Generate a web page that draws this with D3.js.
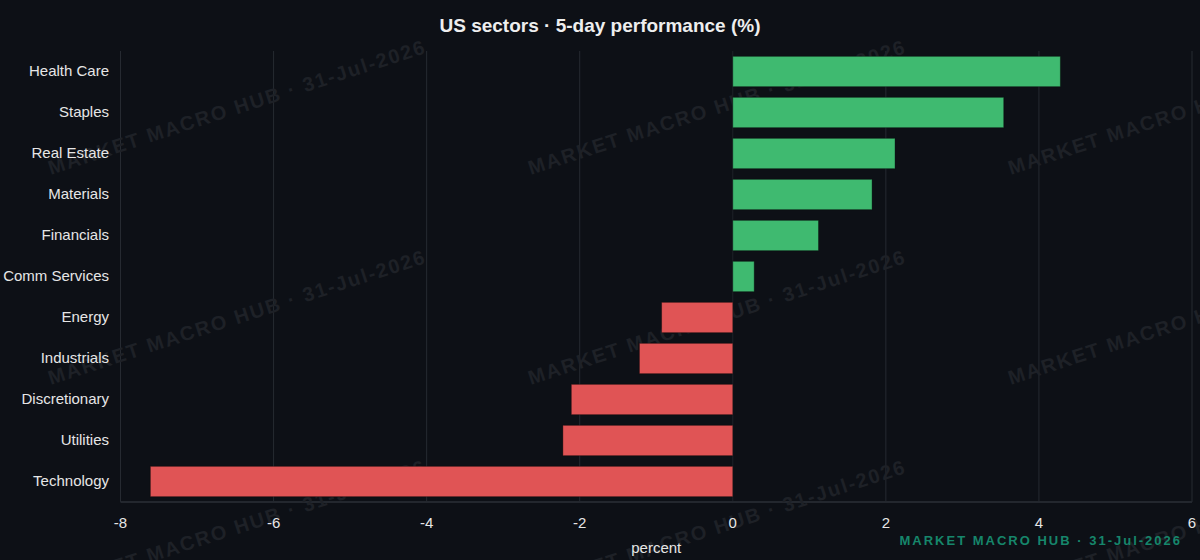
<!DOCTYPE html>
<html>
<head>
<meta charset="utf-8">
<script src="https://cdn.jsdelivr.net/npm/d3@7/dist/d3.min.js"></script>
<style>
  html, body { margin: 0; padding: 0; background: #0d1016; }
  #chart { width: 1200px; height: 560px; }
  text { font-family: "Liberation Sans", Arial, Helvetica, sans-serif; }
</style>
</head>
<body>
<div id="chart"></div>
<script>
// sectors, top to bottom
const sectors = [
  "Health Care", "Staples", "Real Estate", "Materials", "Financials",
  "Comm Services", "Energy", "Industrials", "Discretionary", "Utilities", "Technology"
];
const perf5d = [4.28, 3.54, 2.12, 1.82, 1.12, 0.28, -0.93, -1.22, -2.11, -2.22, -7.61];
const xTicks = [-8, -6, -4, -2, 0, 2, 4, 6];
const titleText = "US sectors · 5-day performance (%)";
const stampText = "MARKET MACRO HUB · 31-Jul-2026";

const width = 1200;
const height = 560;
const margin = { top: 51, right: 8, bottom: 58, left: 120.5 };

const svg = d3
  .select("#chart")
  .append("svg")
  .attr("width", width)
  .attr("height", height);

svg.append("rect").attr("width", width).attr("height", height).attr("fill", "#0d1016");

const x = d3.scaleLinear().domain([-8, 6]).range([margin.left, width - margin.right]);
const y = d3
  .scaleBand()
  .domain(sectors)
  .range([margin.top, height - margin.bottom])
  .paddingInner(0.26)
  .paddingOuter(0.13);

// grid
svg
  .append("g")
  .selectAll("line")
  .data(xTicks)
  .enter()
  .append("line")
  .attr("x1", (d) => x(d))
  .attr("x2", (d) => x(d))
  .attr("y1", margin.top)
  .attr("y2", height - margin.bottom)
  .attr("stroke", (d) => (d === 0 ? "#1e2228" : "#262a31"))
  .attr("stroke-width", 1);

// bottom axis line
svg
  .append("line")
  .attr("x1", margin.left)
  .attr("x2", width - margin.right)
  .attr("y1", height - margin.bottom)
  .attr("y2", height - margin.bottom)
  .attr("stroke", "#23272e")
  .attr("stroke-width", 2);

// watermark stamps, behind the bars
const stamps = svg.append("g").attr("class", "stamps");
[237, 717, 1197].forEach((cx) => {
  [107, 317, 527].forEach((cy) => {
    stamps
      .append("text")
      .attr("transform", `translate(${cx},${cy}) rotate(-18)`)
      .attr("text-anchor", "middle")
      .attr("dominant-baseline", "central")
      .style("font-size", "20px")
      .style("font-weight", "bold")
      .style("letter-spacing", "1.8px")
      .attr("fill", "#1e2127")
      .text(stampText);
  });
});

// bars
svg
  .append("g")
  .selectAll("rect")
  .data(perf5d)
  .enter()
  .append("rect")
  .attr("x", (d) => x(Math.min(0, d)))
  .attr("width", (d) => Math.abs(x(d) - x(0)))
  .attr("y", (_, i) => y(sectors[i]))
  .attr("height", y.bandwidth())
  .attr("fill", (d) => (d >= 0 ? "#3fba70" : "#e05455"))
  .attr("stroke", "rgba(0,0,0,0.35)")
  .attr("stroke-width", 1);

// y labels
svg
  .append("g")
  .selectAll("text")
  .data(sectors)
  .enter()
  .append("text")
  .attr("x", 109)
  .attr("y", (d) => y(d) + y.bandwidth() / 2 - 1)
  .attr("text-anchor", "end")
  .attr("dominant-baseline", "central")
  .style("font-size", "15px")
  .attr("fill", "#e6e6e6")
  .text((d) => d);

// x tick labels
svg
  .append("g")
  .selectAll("text")
  .data(xTicks)
  .enter()
  .append("text")
  .attr("x", (d) => x(d))
  .attr("y", 522)
  .attr("text-anchor", "middle")
  .attr("dominant-baseline", "central")
  .style("font-size", "15px")
  .attr("fill", "#e6e6e6")
  .text((d) => d);

// axis title
svg
  .append("text")
  .attr("x", (x.range()[0] + x.range()[1]) / 2)
  .attr("y", 547)
  .attr("text-anchor", "middle")
  .attr("dominant-baseline", "central")
  .style("font-size", "15px")
  .attr("fill", "#e6e6e6")
  .text("percent");

// title
svg
  .append("text")
  .attr("x", 600)
  .attr("y", 25)
  .attr("text-anchor", "middle")
  .attr("dominant-baseline", "central")
  .style("font-size", "19px")
  .style("font-weight", "bold")
  .attr("fill", "#eeeeee")
  .text(titleText);

// footer stamp
svg
  .append("text")
  .attr("x", 1182)
  .attr("y", 540)
  .attr("text-anchor", "end")
  .attr("dominant-baseline", "central")
  .style("font-size", "13px")
  .style("font-weight", "bold")
  .style("letter-spacing", "2px")
  .attr("fill", "#16866b")
  .text(stampText);
</script>
</body>
</html>
